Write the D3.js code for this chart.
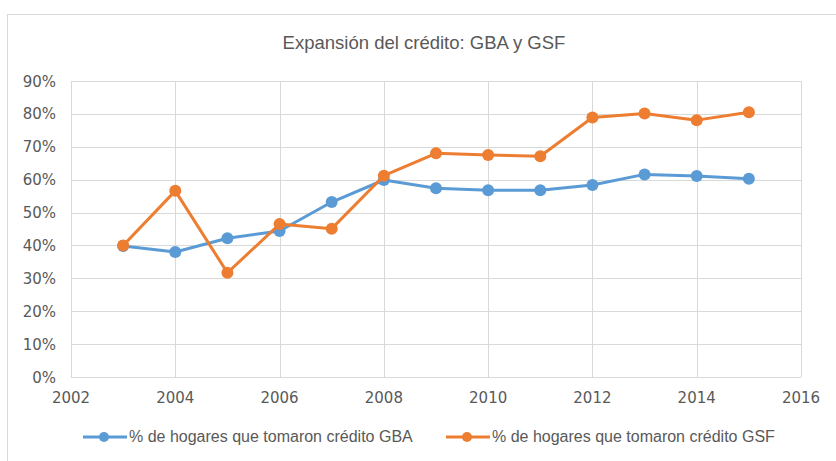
<!DOCTYPE html>
<html>
<head>
<meta charset="utf-8">
<script src="https://cdn.jsdelivr.net/npm/d3@7"></script>
<style>
  body { margin: 0; background: #fff; }
  svg text { fill: #595959; }
</style>
</head>
<body>
<svg id="chart" width="836" height="461"></svg>
<script>
var years = [2003, 2004, 2005, 2006, 2007, 2008, 2009, 2010, 2011, 2012, 2013, 2014, 2015];
var gba = [39.8, 38.0, 42.2, 44.4, 53.2, 59.9, 57.4, 56.8, 56.8, 58.4, 61.6, 61.1, 60.3];
var gsf = [40.0, 56.6, 31.7, 46.5, 45.1, 61.2, 68.0, 67.5, 67.1, 78.9, 80.1, 78.1, 80.5];
var xTicks = [2002, 2004, 2006, 2008, 2010, 2012, 2014, 2016];
var yTicks = [0, 10, 20, 30, 40, 50, 60, 70, 80, 90];
var seriesNames = ["% de hogares que tomaron crédito GBA", "% de hogares que tomaron crédito GSF"];
var colors = ["#5B9BD5", "#ED7D31"];

var svg = d3.select("#chart");

// marco del gráfico
svg.append("rect")
  .attr("x", 7.5).attr("y", 14.5)
  .attr("width", 840).attr("height", 460)
  .attr("fill", "#fff").attr("stroke", "#d9d9d9");

svg.append("text")
  .attr("x", 424).attr("y", 49)
  .attr("text-anchor", "middle")
  .style("font-family", "'Liberation Sans', Arial, sans-serif")
  .style("font-size", "18.5px")
  .text("Expansión del crédito: GBA y GSF");

var x = d3.scaleLinear().domain([2002, 2016]).range([71, 801]);
var y = d3.scaleLinear().domain([0, 90]).range([377, 81]);

var g = svg.append("g");

// grilla
g.selectAll(".hgrid").data(yTicks).enter().append("line")
  .attr("x1", x(2002)).attr("x2", x(2016))
  .attr("y1", function(d){ return Math.round(y(d)) + 0.5; })
  .attr("y2", function(d){ return Math.round(y(d)) + 0.5; })
  .attr("stroke", "#d9d9d9").attr("stroke-width", 1);

g.selectAll(".vgrid").data(xTicks).enter().append("line")
  .attr("x1", function(d){ return Math.round(x(d)) + 0.5; })
  .attr("x2", function(d){ return Math.round(x(d)) + 0.5; })
  .attr("y1", y(90)).attr("y2", y(0))
  .attr("stroke", "#d9d9d9").attr("stroke-width", 1);

// etiquetas de ejes
g.selectAll(".ylab").data(yTicks).enter().append("text")
  .attr("x", 56).attr("y", function(d){ return y(d) + 5.5; })
  .attr("text-anchor", "end")
  .style("font-family", "'DejaVu Sans', sans-serif")
  .style("font-size", "15px")
  .text(function(d){ return d + "%"; });

g.selectAll(".xlab").data(xTicks).enter().append("text")
  .attr("x", function(d){ return x(d); }).attr("y", 403)
  .attr("text-anchor", "middle")
  .style("font-family", "'DejaVu Sans', sans-serif")
  .style("font-size", "15px")
  .text(function(d){ return d; });

var line = d3.line()
  .x(function(d){ return x(d[0]); })
  .y(function(d){ return y(d[1]); });

[gba, gsf].forEach(function(vals, i) {
  var pts = years.map(function(yr, j){ return [yr, vals[j]]; });
  g.append("path")
    .datum(pts)
    .attr("d", line)
    .attr("fill", "none")
    .attr("stroke", colors[i])
    .attr("stroke-width", 3)
    .attr("stroke-linejoin", "round");
  g.selectAll(".pt" + i).data(pts).enter().append("circle")
    .attr("cx", function(d){ return x(d[0]); })
    .attr("cy", function(d){ return y(d[1]); })
    .attr("r", 6)
    .attr("fill", colors[i]);
});

// leyenda
var legX = [83, 446];
seriesNames.forEach(function(name, i) {
  var lg = svg.append("g").attr("transform", "translate(" + legX[i] + ",437)");
  lg.append("line").attr("x1", 0).attr("x2", 44).attr("y1", 0).attr("y2", 0)
    .attr("stroke", colors[i]).attr("stroke-width", 3);
  lg.append("circle").attr("cx", 21).attr("cy", 0).attr("r", 5).attr("fill", colors[i]);
  lg.append("text").attr("x", 46).attr("y", 5)
    .style("font-family", "'Liberation Sans', Arial, sans-serif")
    .style("font-size", "16px")
    .text(name);
});
</script>
</body>
</html>
